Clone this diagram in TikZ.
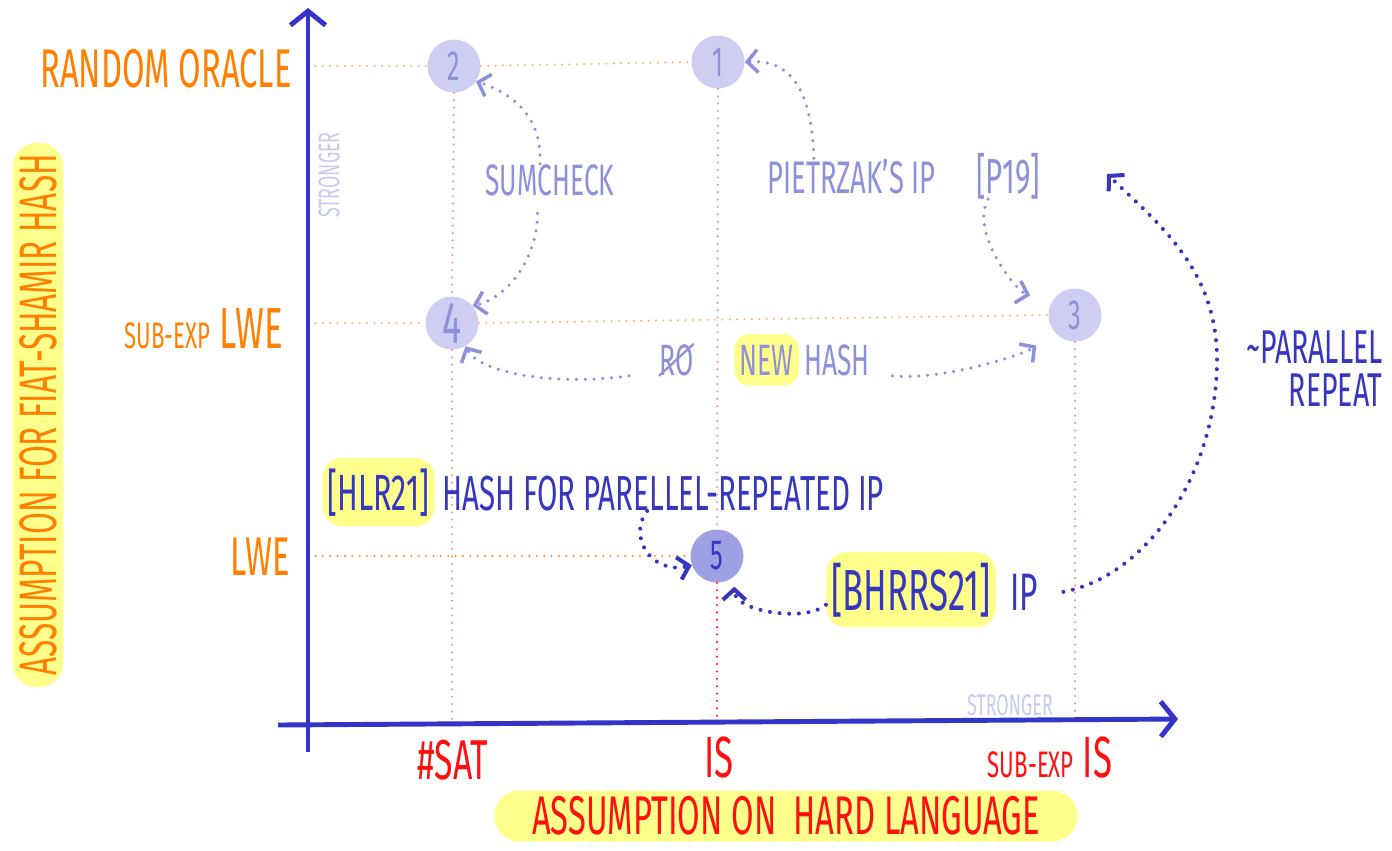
\documentclass[tikz,border=0pt]{standalone}
\usepackage{fontspec}
\setmainfont{Fira Sans}[FakeStretch=0.6]
\usetikzlibrary{arrows.meta}
\usetikzlibrary{positioning}

\definecolor{axisblue}{HTML}{3434C8}
\definecolor{inkblue}{HTML}{3636BE}
\definecolor{lilac}{HTML}{8E90DA}
\definecolor{lilacfill}{HTML}{CDCEF1}
\definecolor{darkfill}{HTML}{9FA0E4}
\definecolor{faint}{HTML}{C9CAEF}
\definecolor{hlyellow}{HTML}{FFFF8C}
\definecolor{orangeink}{HTML}{FF7F00}
\definecolor{orangedot}{HTML}{FFB46E}
\definecolor{redink}{HTML}{FF1010}
\definecolor{reddot}{HTML}{FF8A8A}

\newcommand{\fsz}[1]{\fontsize{#1}{#1}\selectfont}

\tikzstyle{claim}=[circle, fill=lilacfill, text=lilac, minimum size=1.06cm,
  inner sep=0pt, font=\fsz{24}]
\tikzstyle{hashlbl}=[text=orangeink, inner sep=0pt]
\tikzstyle{langlbl}=[text=redink, inner sep=0pt]
\tikzstyle{notelbl}=[text=lilac, inner sep=0pt]
\tikzstyle{inklbl}=[text=inkblue, inner sep=0pt]
\tikzstyle{hilite}=[fill=hlyellow, rounded corners=0.4cm, inner xsep=3pt,
  inner ysep=6pt]
\tikzstyle{titlebar}=[hilite, inner ysep=2pt, minimum height=1.02cm,
  rounded corners=0.5cm]
\tikzstyle{axisline}=[line width=2.8pt, draw=axisblue,
  -{Straight Barb[length=8pt, width=20pt]}]
\tikzstyle{gridh}=[draw=orangedot, line width=1.3pt, line cap=round,
  dash pattern=on 0pt off 4.2pt]
\tikzstyle{gridv}=[gridh, draw=reddot]
\tikzstyle{arrlight}=[draw=lilac, line width=2pt, line cap=round,
  dash pattern=on 0pt off 5pt, -{Straight Barb[length=6pt, width=13pt]}]
\tikzstyle{arrdark}=[arrlight, draw=inkblue, line width=2.3pt,
  dash pattern=on 0pt off 5.5pt]

\begin{document}
\begin{tikzpicture}[x=0.02cm, y=-0.02cm]
\useasboundingbox[fill=white] (0,0) rectangle (1392,850);

\coordinate (origin) at (308,724);
\coordinate (ybot) at (308,752);
\coordinate (ytop) at (308,8);
\coordinate (xleft) at (278,725);
\coordinate (xright) at (1178,719);

% the five protocols
\node[claim] (p1) at (718,62) {1};
\node[claim] (p2) at (454,66) {2};
\node[claim] (p3) at (1075,315) {3};
\node[claim, font=\fsz{34}] (p4) at (452,323) {4};
\node[claim, fill=darkfill, text=inkblue] (p5) at (717,556) {5};

% guide lines
\draw[gridh] (ytop |- p2) -- (p2.west);
\draw[gridh] (p2.east) -- (p1.west);
\draw[gridh] (ytop |- p4) -- (p4.west);
\draw[gridh] (p4.east) -- (p3.west);
\draw[gridh, draw=orangeink!90] (ytop |- p5) -- (p5.west);
\draw[gridv] (p2.south) -- (p4.north);
\draw[gridv] (p4.south) -- (p4 |- origin);
\draw[gridv] (p1.south) -- (p5.north);
\draw[gridv, draw=redink] (p5.south) -- (p5 |- origin);
\draw[gridv] (p3.south) -- (p3 |- origin);

% axes
\draw[axisline] (ybot) -- (ytop);
\draw[axisline] (xleft) -- (xright);

% hash side
\node[hashlbl, anchor=base east, font=\fsz{31}] (oracle) at (292,87) {RANDOM ORACLE};
\node[hashlbl, anchor=base east, font=\fsz{33}] (sublwe) at (283,348) {{\fsz{21}SUB-EXP} LWE};
\node[hashlbl, anchor=base east, font=\fsz{31}] (lwe) at (290,575) {LWE};
\node[hashlbl, titlebar, rotate=90, font=\fsz{30}, minimum width=10.9cm] (ytitle)
  at (38,415) {ASSUMPTION FOR FIAT-SHAMIR HASH};
\node[text=faint, rotate=90, inner sep=0pt, font=\fsz{17}] (strongy) at (329,175) {STRONGER};

% language side
\node[langlbl, anchor=base, font=\fsz{32}] (sat) at (453,779) {\#SAT};
\node[langlbl, anchor=base, font=\fsz{33}] (is) at (719,777) {IS};
\node[langlbl, anchor=base, font=\fsz{33}] (subis) at (1050,777) {{\fsz{21}SUB-EXP} IS};
\node[langlbl, titlebar, font=\fsz{31}, minimum width=11.66cm] (xtitle)
  at (786,816) {ASSUMPTION ON\ \ HARD LANGUAGE};
\node[text=faint, anchor=base, inner sep=0pt, font=\fsz{17}] (strongx) at (1010,715) {STRONGER};

% notes
\node[notelbl, anchor=base, font=\fsz{25}] (sumcheck) at (550,195) {SUMCHECK};
\node[notelbl, anchor=base west, font=\fsz{26}] (pietrzak) at (767,193) {PIETRZAK’S IP};
\node[notelbl, anchor=base, font=\fsz{28}] (p19) at (1008,193) {[P19]};
\node[notelbl, anchor=base west, font=\fsz{25}] (oldro) at (659,375) {RO};
\draw[lilac, line width=1.3pt] (oldro.south west) -- (oldro.north east);
\node[notelbl, hilite, anchor=base west, font=\fsz{25}, rounded corners=0.3cm] (newh) at (734,375) {NEW};
\node[notelbl, anchor=base west, font=\fsz{25}] (hashh) at (804,375) {HASH};

\node[inklbl, hilite, anchor=base west, font=\fsz{29}] (hlr) at (322,510) {[HLR21]};
\node[inklbl, anchor=base west, font=\fsz{28}] (hlrhash) at (442,510) {HASH FOR PARELLEL-REPEATED IP};
\node[inklbl, hilite, anchor=base west, font=\fsz{33}] (bhrrs) at (826,610) {[BHRRS21]};
\node[inklbl, anchor=base west, font=\fsz{30}] (bip) at (1010,610) {IP};
\node[inklbl, anchor=base east, font=\fsz{27}] (parline) at (1383,363) {\textasciitilde PARALLEL};
\node[inklbl, anchor=base east, font=\fsz{27}] (repline) at (1383,406) {REPEAT};
\coordinate (prtip) at (1107,174);

% reductions
\draw[arrlight] ([xshift=-0.2cm]sumcheck.north) .. controls +(3,-55) and +(25,8) .. (p2.-35);
\draw[arrlight] ([xshift=-0.25cm, yshift=-0.35cm]sumcheck.south) .. controls +(0,45) and +(35,-8) .. (p4.40);
\draw[arrlight] ([xshift=-0.75cm]pietrzak.north) .. controls +(-2,-70) and +(45,-3) .. (p1.east);
\draw[arrlight, shorten >=0.45cm] ([xshift=-0.4cm]p19.south) .. controls +(-18,35) and +(-35,-10) .. (p3.150);
\draw[arrlight] ([xshift=-0.6cm]oldro.south west) .. controls +(-70,10) and +(15,28) .. (p4.-60);
\draw[arrlight, shorten >=0.45cm] ([xshift=0.45cm]hashh.south east) .. controls +(50,5) and +(-30,22) .. (p3.-140);
\draw[arrdark] ([xshift=-0.32cm]hlrhash.south) .. controls +(-20,25) and +(-40,10) .. (p5.200);
\draw[arrdark, shorten >=0.2cm] (bhrrs.190) .. controls +(-20,18) and +(0,35) .. (p5.-50);
\draw[arrdark] ([xshift=0.5cm]bip.east) .. controls (1150,575) and (1217,470) .. (1217,360)
  .. controls (1217,270) and (1160,225) .. (prtip);

\end{tikzpicture}
\end{document}
